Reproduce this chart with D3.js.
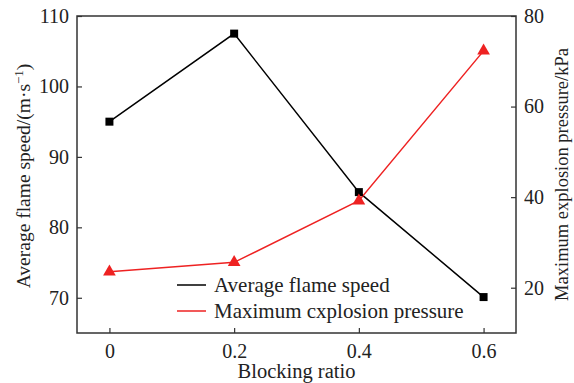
<!DOCTYPE html>
<title>flame speed and explosion pressure</title>
<style>
body { margin: 0; background: #fff; }
svg text { font-family: "Liberation Serif", "Times New Roman", serif; fill: #222; }
</style>
<svg width="574" height="383"></svg>
<script src="https://d3js.org/d3.v7.min.js"></script>
<script>
// data
var ratios = [0, 0.2, 0.4, 0.6];
var flameSpeed = [95, 107.5, 85, 70.1];
var pressure = [23.5, 25.6, 39.2, 72.3];
var xTicks = [0, 0.2, 0.4, 0.6];
var leftTicks = [70, 80, 90, 100, 110];
var rightTicks = [20, 40, 60, 80];

var svg = d3.select("svg"),
    margin = {top: 16, right: 58, bottom: 50, left: 77},
    width = +svg.attr("width") - margin.left - margin.right,
    height = +svg.attr("height") - margin.top - margin.bottom,
    g = svg.append("g").attr("transform", "translate(" + margin.left + "," + margin.top + ")");

var x = d3.scaleLinear().domain([-0.052, 0.652]).range([0, width]);
var yL = d3.scaleLinear().domain([65, 110]).range([height, 0]);
var yR = d3.scaleLinear().domain([10, 80]).range([height, 0]);

// frame
g.append("rect")
  .attr("width", width).attr("height", height)
  .attr("fill", "none").attr("stroke", "#333").attr("stroke-width", 1.5);

function styleAxis(sel) {
  sel.select(".domain").remove();
  sel.selectAll("line").attr("stroke", "#333").attr("stroke-width", 1.2);
  sel.selectAll("text").style("font-size", "20px").attr("fill", "#222");
}

g.append("g")
  .attr("transform", "translate(0," + height + ")")
  .call(d3.axisBottom(x).tickValues(xTicks).tickSize(-5).tickPadding(11).tickFormat(d3.format("")))
  .call(styleAxis);

g.append("g")
  .call(d3.axisLeft(yL).tickValues(leftTicks).tickSize(-5).tickPadding(8))
  .call(styleAxis);

g.append("g")
  .attr("transform", "translate(" + width + ",0)")
  .call(d3.axisRight(yR).tickValues(rightTicks).tickSize(-5).tickPadding(8))
  .call(styleAxis);

// axis titles
svg.append("text")
  .attr("x", margin.left + width / 2).attr("y", 378)
  .attr("text-anchor", "middle").style("font-size", "20.5px")
  .text("Blocking ratio");

var lt = svg.append("text")
  .attr("transform", "translate(30,176) rotate(-90)")
  .attr("text-anchor", "middle").style("font-size", "19.5px");
lt.append("tspan").text("Average flame speed/(m·s");
lt.append("tspan").attr("dy", "-7").style("font-size", "13px").text("−1");
lt.append("tspan").attr("dy", "7").text(")");

svg.append("text")
  .attr("transform", "translate(568," + (margin.top + height / 2) + ") rotate(-90)")
  .attr("text-anchor", "middle").style("font-size", "18.5px")
  .text("Maximum explosion pressure/kPa");

// series
var speedData = ratios.map(function(r, i) { return [r, flameSpeed[i]]; });
var pressData = ratios.map(function(r, i) { return [r, pressure[i]]; });

g.append("path")
  .datum(speedData)
  .attr("fill", "none").attr("stroke", "#000").attr("stroke-width", 1.5)
  .attr("d", d3.line().x(function(d) { return x(d[0]); }).y(function(d) { return yL(d[1]); }));

g.append("path")
  .datum(pressData)
  .attr("fill", "none").attr("stroke", "#ee2222").attr("stroke-width", 1.5)
  .attr("d", d3.line().x(function(d) { return x(d[0]); }).y(function(d) { return yR(d[1]); }));

var square = d3.symbol().type(d3.symbolSquare).size(64);
var tri = d3.symbol().type(d3.symbolTriangle).size(70);

g.selectAll(".sq").data(speedData).enter().append("path")
  .attr("class", "sq")
  .attr("transform", function(d) { return "translate(" + x(d[0]) + "," + yL(d[1]) + ")"; })
  .attr("d", square).attr("fill", "#000");

g.selectAll(".tri").data(pressData).enter().append("path")
  .attr("class", "tri")
  .attr("transform", function(d) { return "translate(" + x(d[0]) + "," + yR(d[1]) + ")"; })
  .attr("d", tri).attr("fill", "#ee2222");

// legend
var legend = svg.append("g").selectAll("g")
  .data([
    {label: "Average flame speed", color: "#000", sym: square},
    {label: "Maximum cxplosion pressure", color: "#ee2222", sym: tri}
  ])
  .enter().append("g")
  .attr("transform", function(d, i) { return "translate(177," + (285 + i * 26) + ")"; });

legend.append("line")
  .attr("x1", 0).attr("x2", 29)
  .attr("stroke", function(d) { return d.color; }).attr("stroke-width", 1.5);

legend.append("path")
  .attr("transform", "translate(14.5,0)")
  .attr("d", function(d) { return d.sym; })
  .attr("fill", function(d) { return d.color; });

legend.append("text")
  .attr("x", 37).attr("dy", "0.33em")
  .style("font-size", "21px")
  .text(function(d) { return d.label; });
</script>
